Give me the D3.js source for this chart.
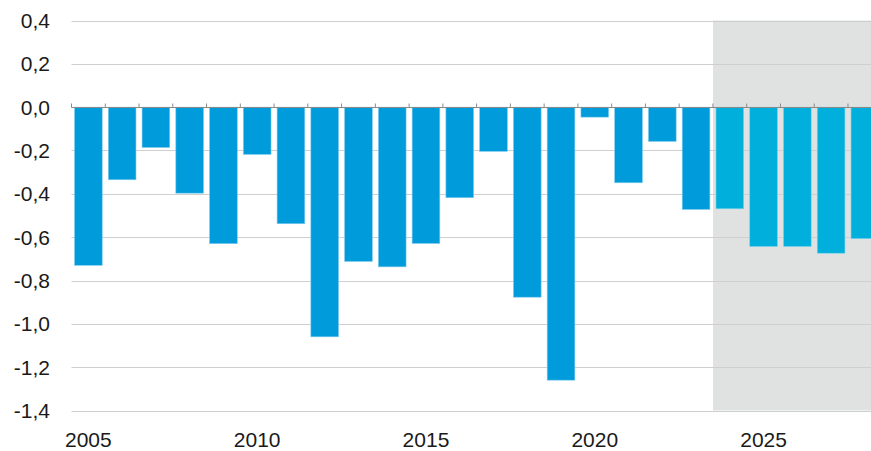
<!DOCTYPE html>
<html>
<head>
<meta charset="utf-8">
<script src="https://cdn.jsdelivr.net/npm/d3@7"></script>
<style>
  html, body { margin: 0; padding: 0; background: #fff; }
  svg { display: block; }
  text { font-family: "Liberation Sans", Arial, sans-serif; fill: #1a1a1a; }
</style>
</head>
<body>
<svg id="chart" width="871" height="451"></svg>
<script>
// Annual values, 2005–2023 outturn and 2024–2028 projection
const years = [2005, 2006, 2007, 2008, 2009, 2010, 2011, 2012, 2013, 2014, 2015, 2016,
               2017, 2018, 2019, 2020, 2021, 2022, 2023, 2024, 2025, 2026, 2027, 2028];
const values = [-0.73, -0.335, -0.186, -0.397, -0.63, -0.218, -0.538, -1.06, -0.712, -0.737, -0.629, -0.418,
                -0.204, -0.877, -1.26, -0.046, -0.349, -0.158, -0.472, -0.469, -0.643, -0.643, -0.674, -0.607];
const firstProjectionYear = 2024;
const yTicks = [0.4, 0.2, 0.0, -0.2, -0.4, -0.6, -0.8, -1.0, -1.2, -1.4];
const xLabelYears = [2005, 2010, 2015, 2020, 2025];

const W = 871, H = 451;
const left = 71.5, step = 33.76;
const svg = d3.select("#chart");

const x = d3.scaleBand()
  .domain(years)
  .range([left, left + step * years.length])
  .paddingInner(0.18)
  .paddingOuter(0.09);

const y = d3.scaleLinear().domain([-1.4, 0.4]).range([410.5, 20.5]);

const plotRight = W;
const fmt = v => d3.format(".1f")(v).replace("−", "-").replace(".", ",");

// Projection period shading
const shadeX = x(firstProjectionYear) - x.step() * x.paddingInner() / 2;
svg.append("rect")
  .attr("x", shadeX)
  .attr("y", y(0.4))
  .attr("width", plotRight - shadeX)
  .attr("height", y(-1.4) - y(0.4))
  .attr("fill", "#e0e1e1");

// Horizontal gridlines
svg.append("g")
  .selectAll("line")
  .data(yTicks.filter(v => v !== 0))
  .join("line")
  .attr("x1", left)
  .attr("x2", plotRight)
  .attr("y1", d => Math.round(y(d)) + 0.5)
  .attr("y2", d => Math.round(y(d)) + 0.5)
  .attr("stroke", "#cfcfcf")
  .attr("stroke-width", 1);

// Bars
svg.append("g")
  .selectAll("rect")
  .data(years.map((yr, i) => ({ yr, v: values[i] })))
  .join("rect")
  .attr("x", d => x(d.yr))
  .attr("width", x.bandwidth())
  .attr("y", d => y(Math.max(0, d.v)))
  .attr("height", d => Math.abs(y(d.v) - y(0)))
  .attr("fill", d => d.yr >= firstProjectionYear ? "#00afdc" : "#009bdb")
  .attr("stroke", d => d.yr >= firstProjectionYear ? "#7fd3ee" : "#7fcbee")
  .attr("stroke-width", 0.6);

// Zero line with tick marks at category boundaries
const zeroY = Math.round(y(0)) + 0.5;
svg.append("line")
  .attr("x1", left).attr("x2", plotRight)
  .attr("y1", zeroY).attr("y2", zeroY)
  .attr("stroke", "#8a8a8a").attr("stroke-width", 1.2);

const boundaries = years.map(yr => x(yr) - x.step() * x.paddingInner() / 2);
svg.append("g")
  .selectAll("line")
  .data(boundaries.filter(b => b < plotRight))
  .join("line")
  .attr("x1", d => d).attr("x2", d => d)
  .attr("y1", zeroY - 4).attr("y2", zeroY)
  .attr("stroke", "#8a8a8a").attr("stroke-width", 1);

// Y axis labels
svg.append("g")
  .selectAll("text")
  .data(yTicks)
  .join("text")
  .attr("x", 50)
  .attr("y", d => y(d))
  .attr("dy", "0.36em")
  .attr("text-anchor", "end")
  .attr("font-size", 21)
  .text(d => fmt(d));

// X axis labels
svg.append("g")
  .selectAll("text")
  .data(xLabelYears)
  .join("text")
  .attr("x", d => x(d) + x.bandwidth() / 2)
  .attr("y", 447)
  .attr("text-anchor", "middle")
  .attr("font-size", 21)
  .text(d => d);
</script>
</body>
</html>
